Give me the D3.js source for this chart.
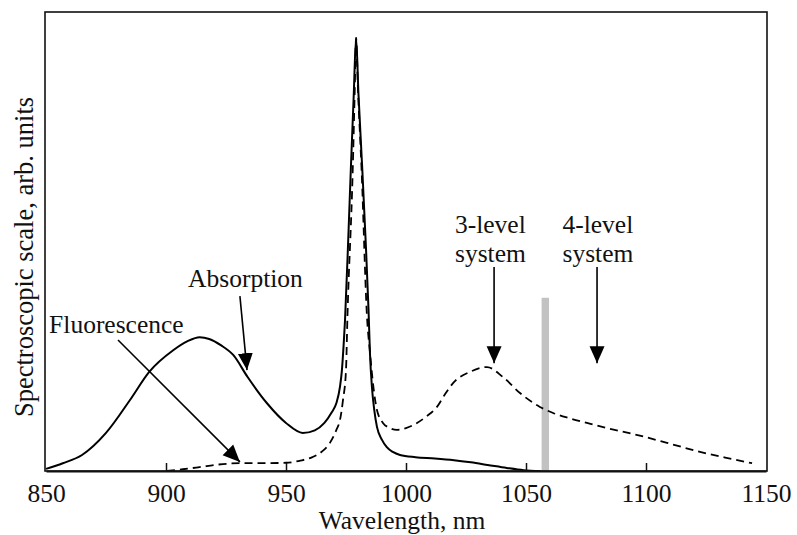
<!DOCTYPE html>
<html>
<head>
<meta charset="utf-8">
<script src="https://cdn.jsdelivr.net/npm/d3@7"></script>
<style>
  html, body { margin: 0; padding: 0; background: #fff; }
  svg { display: block; }
</style>
</head>
<body>
<svg id="chart" width="797" height="535"></svg>
<script>
// Yb absorption (solid) and fluorescence (dashed) spectra, [wavelength nm, arb. units]
const absorption = [
  [850, 0.005], [857, 0.018], [865, 0.037], [875, 0.088], [885, 0.164],
  [893, 0.229], [903, 0.279], [909, 0.300], [914, 0.309], [918, 0.305],
  [923, 0.290], [928, 0.268], [934, 0.217], [942, 0.157], [950, 0.111],
  [957, 0.088], [962, 0.094], [966, 0.111], [969, 0.135], [971, 0.157],
  [972.5, 0.195], [973.3, 0.233], [974.0, 0.290], [974.6, 0.349], [976.0, 0.545],
  [977.0, 0.695], [978.2, 0.865], [979.2, 1.0], [980.2, 0.87], [981.8, 0.695],
  [983.2, 0.53], [984.4, 0.37], [985.0, 0.27], [985.8, 0.194], [986.8, 0.140],
  [987.9, 0.102], [990, 0.072], [992, 0.055], [994.5, 0.044], [997.5, 0.037],
  [1004, 0.032], [1012, 0.029], [1020, 0.025], [1027, 0.020], [1034, 0.014],
  [1042, 0.007], [1049, 0.002], [1056, 0.0]
];
const fluorescence = [
  [900.4, 0.0], [907, 0.004], [914, 0.009], [922, 0.015], [931, 0.018],
  [941, 0.018], [950, 0.019], [956, 0.024], [961, 0.032], [965, 0.045],
  [968.3, 0.065], [971, 0.095], [972.5, 0.118], [973.75, 0.164], [975.0, 0.233],
  [975.6, 0.356], [977.8, 0.695], [978.6, 0.87], [979.2, 1.0], [980.0, 0.88],
  [981.5, 0.695], [983.75, 0.356], [985, 0.273], [986.5, 0.19], [987.9, 0.141],
  [990.4, 0.111], [993, 0.100], [996.2, 0.095], [1000, 0.099], [1004.6, 0.111],
  [1008.5, 0.126], [1012.9, 0.148], [1016, 0.175], [1019.6, 0.203], [1026.7, 0.229],
  [1033.75, 0.240], [1040.4, 0.217], [1047.5, 0.180], [1055.8, 0.148], [1061.3, 0.134],
  [1068, 0.122], [1075.4, 0.111], [1083.75, 0.099], [1095, 0.085], [1108.75, 0.065],
  [1122.5, 0.044], [1133, 0.031], [1144.2, 0.018]
];

// Axis ticks
const xTicks = [850, 900, 950, 1000, 1050, 1100, 1150];

// Boundary between 3-level and 4-level operation: [from nm, to nm, height]
const boundaryBar = [1056.5, 1059.6, 0.40];

// Annotation labels: text lines, left x in nm, first baseline in arb. units
const labels = [
  { lines: ["Absorption"], x: 909.2, y: 0.425 },
  { lines: ["Fluorescence"], x: 851.3, y: 0.319 },
  { lines: ["3-level", "system"], x: 1020.4, y: 0.550 },
  { lines: ["4-level", "system"], x: 1065.2, y: 0.550 }
];
// Annotation arrows: [x1, y1] -> [x2, y2] in data units
const arrows = [
  [[930.8, 0.404], [933.75, 0.233]],
  [[880.0, 0.3025], [930.8, 0.021]],
  [[1036.7, 0.471], [1036.7, 0.249]],
  [[1079.6, 0.471], [1079.6, 0.249]]
];

const FONT = "'Liberation Serif', 'Times New Roman', Times, 'DejaVu Serif', serif";
const fontSize = 25.5;

const svg = d3.select("#chart");
const frame = { left: 45, right: 767, top: 12, bottom: 471 };

const x = d3.scaleLinear().domain([850, 1150]).range([46, 766]);
const y = d3.scaleLinear().domain([0, 1.06]).range([frame.bottom, frame.top]);

// Arrowhead marker
svg.append("defs").append("marker")
  .attr("id", "head")
  .attr("markerUnits", "userSpaceOnUse")
  .attr("viewBox", "0 -8 17 16")
  .attr("markerWidth", 17).attr("markerHeight", 16)
  .attr("refX", 17).attr("refY", 0)
  .attr("orient", "auto")
  .append("path")
  .attr("d", "M0,-7.5L17,0L0,7.5Z")
  .attr("fill", "#000");

// Grey boundary bar
svg.append("rect")
  .attr("x", x(boundaryBar[0]))
  .attr("width", x(boundaryBar[1]) - x(boundaryBar[0]))
  .attr("y", y(boundaryBar[2]))
  .attr("height", y(0) - y(boundaryBar[2]))
  .attr("fill", "#c2c2c2");

const line = d3.line()
  .x(d => x(d[0]))
  .y(d => y(d[1]))
  .curve(d3.curveMonotoneX);

svg.append("path")
  .datum(fluorescence)
  .attr("d", line)
  .attr("fill", "none")
  .attr("stroke", "#000")
  .attr("stroke-width", 1.8)
  .attr("stroke-dasharray", "8,5");

svg.append("path")
  .datum(absorption)
  .attr("d", line)
  .attr("fill", "none")
  .attr("stroke", "#000")
  .attr("stroke-width", 2);

// Frame
svg.append("rect")
  .attr("x", frame.left).attr("y", frame.top)
  .attr("width", frame.right - frame.left)
  .attr("height", frame.bottom - frame.top)
  .attr("fill", "none")
  .attr("stroke", "#111")
  .attr("stroke-width", 1.6);

// Bottom axis with inward ticks
const xAxis = d3.axisBottom(x)
  .tickValues(xTicks)
  .tickFormat(d3.format("d"))
  .tickSizeInner(-8)
  .tickSizeOuter(0)
  .tickPadding(0);

const gx = svg.append("g")
  .attr("transform", `translate(0,${frame.bottom})`)
  .call(xAxis)
  .attr("font-family", FONT)
  .attr("font-size", fontSize);
gx.select(".domain").attr("stroke", "#111").attr("stroke-width", 2);
gx.selectAll(".tick line").attr("stroke", "#111").attr("stroke-width", 1.5)
  .filter(d => d === 850 || d === 1150).remove();
gx.selectAll(".tick text")
  .attr("y", 31).attr("dy", null)
  .attr("fill", "#111");

// Axis titles
svg.append("text")
  .attr("x", 402).attr("y", 529)
  .attr("text-anchor", "middle")
  .attr("font-family", FONT)
  .attr("font-size", fontSize)
  .attr("fill", "#111")
  .text("Wavelength, nm");

svg.append("text")
  .attr("transform", "translate(33,257) rotate(-90)")
  .attr("text-anchor", "middle")
  .attr("font-family", FONT)
  .attr("font-size", 26.5)
  .attr("fill", "#111")
  .text("Spectroscopic scale, arb. units");

// Annotation arrows
svg.selectAll(".arrow")
  .data(arrows)
  .join("line")
  .attr("class", "arrow")
  .attr("x1", d => x(d[0][0])).attr("y1", d => y(d[0][1]))
  .attr("x2", d => x(d[1][0])).attr("y2", d => y(d[1][1]))
  .attr("stroke", "#000")
  .attr("stroke-width", 1.6)
  .attr("marker-end", "url(#head)");

// Annotation labels
labels.forEach(l => {
  const t = svg.append("text")
    .attr("x", x(l.x)).attr("y", y(l.y))
    .attr("font-family", FONT)
    .attr("font-size", fontSize)
    .attr("fill", "#111");
  l.lines.forEach((s, i) => {
    t.append("tspan")
      .attr("x", x(l.x))
      .attr("dy", i === 0 ? 0 : 29)
      .text(s);
  });
});
</script>
</body>
</html>
